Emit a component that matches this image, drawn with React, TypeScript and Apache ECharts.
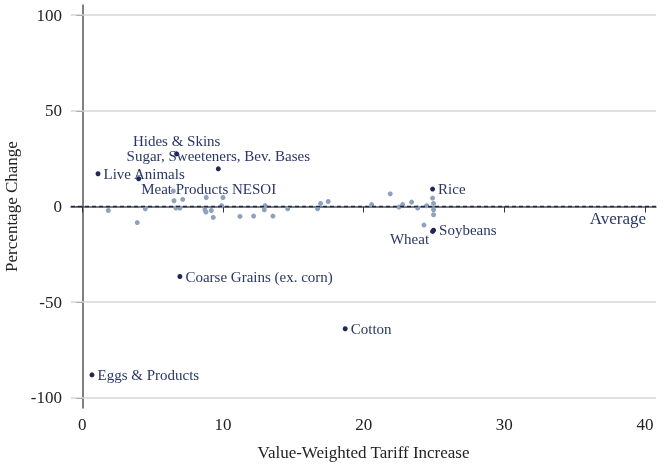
import * as echarts from "echarts";
import { useEffect, useRef } from "react";

// labelled commodities
const labelNames = [
  "Live Animals",
  "Meat Products NESOI",
  "Hides & Skins",
  "Sugar, Sweeteners, Bev. Bases",
  "Coarse Grains (ex. corn)",
  "Cotton",
  "Eggs & Products",
  "Rice",
  "Soybeans",
  "Wheat",
];
const labelTariff = [1.12, 4.01, 6.71, 9.67, 6.94, 18.69, 0.69, 24.9, 24.97, 24.9];
const labelChange = [17.1, 14.5, 27.5, 19.7, -36.6, -63.9, -88.0, 9.1, -12.4, -13.0];

// unlabelled commodities
const otherTariff = [
  1.85, 3.91, 4.48, 6.47, 6.52, 6.66, 6.94, 7.14, 8.81, 8.72, 8.79, 9.17, 9.31,
  10.0, 9.91, 11.21, 12.18, 13.0, 12.94, 13.55, 14.6, 16.73, 16.94, 17.48,
  20.57, 21.89, 22.51, 22.77, 23.41, 23.84, 24.48, 24.29, 24.9, 24.97, 24.97,
  24.97,
];
const otherChange = [
  -2.1, -8.4, -1.2, 8.1, 3.0, -0.8, -0.8, 3.7, 4.7, -1.7, -2.9, -2.1, -5.7,
  4.7, 0.4, -5.2, -5.0, 0.5, -1.7, -5.0, -1.2, -1.2, 1.6, 2.6, 1.0, 6.6, -0.3,
  1.0, 2.3, -0.8, 0.4, -9.7, 4.4, 1.6, -1.7, -4.3,
];

const xTicks = [0, 10, 20, 30, 40];
const yTicks = [-100, -50, 0, 50, 100];
const gridValues = [-100, -50, 50, 100];
const averageValue = 0;

const NAVY = "#1c2856";
const LIGHT = "#8ea2bb";
const FONT = "Liberation Serif";

// where each label sits relative to its dot
const labelPlacement: Record<string, any> = {
  "Hides & Skins": { position: "top", distance: 3 },
  "Sugar, Sweeteners, Bev. Bases": { position: "top", distance: 3 },
  "Meat Products NESOI": { position: "right", distance: 3, offset: [-3, 10] },
  Wheat: { position: "left", distance: 1, offset: [0, 8] },
};

const App = () => {
  const chartRef = useRef<HTMLDivElement>(null);

  useEffect(() => {
    const chart = echarts.init(chartRef.current as HTMLDivElement, null, {
      renderer: "svg",
    });

    const labelled = labelNames.map((name, i) => {
      const p = labelPlacement[name] || { position: "right", distance: 3 };
      return {
        name,
        value: [labelTariff[i], labelChange[i]],
        label: { show: true, formatter: "{b}", ...p },
      };
    });

    const others = otherTariff.map((x, i) => [x, otherChange[i]]);

    const option = {
      animation: false,
      textStyle: { fontFamily: FONT },
      grid: {
        left: 71,
        right: 11,
        top: 5,
        bottom: 58,
        containLabel: false,
        outerBoundsMode: "none",
      },
      xAxis: {
        type: "value",
        min: -0.8,
        max: 40.78,
        name: "Value-Weighted Tariff Increase",
        nameLocation: "middle",
        nameGap: 36,
        nameTextStyle: { fontFamily: FONT, fontSize: 17, color: "#222" },
        axisLine: { show: true, lineStyle: { color: "#555", width: 1.5 } },
        axisTick: {
          show: true,
          length: 6,
          customValues: xTicks,
          lineStyle: { color: "#333" },
        },
        axisLabel: {
          customValues: xTicks,
          fontFamily: FONT,
          fontSize: 17,
          color: "#222",
          margin: 8,
        },
        splitLine: { show: false },
      },
      yAxis: {
        type: "value",
        min: -105.3,
        max: 105.3,
        name: "Percentage Change",
        nameLocation: "middle",
        nameGap: 44,
        nameTextStyle: { fontFamily: FONT, fontSize: 17, color: "#222" },
        axisLine: { show: true, lineStyle: { color: "#555", width: 1.5 } },
        axisTick: {
          show: true,
          length: 6,
          customValues: yTicks,
          lineStyle: { color: "#333" },
        },
        axisLabel: {
          customValues: yTicks,
          fontFamily: FONT,
          fontSize: 17,
          color: "#222",
          margin: 9,
        },
        splitLine: { show: false },
      },
      series: [
        {
          type: "scatter",
          symbolSize: 5,
          itemStyle: { color: LIGHT, opacity: 1 },
          data: others,
          z: 3,
          markLine: {
            silent: true,
            symbol: "none",
            label: { show: false },
            lineStyle: { color: "#d6d6d6", width: 1.5, type: "solid" },
            data: gridValues.map((v) => ({ yAxis: v })),
          },
        },
        {
          type: "scatter",
          symbolSize: 5,
          itemStyle: { color: NAVY, opacity: 1 },
          label: {
            fontFamily: FONT,
            fontSize: 15,
            color: "#2a3766",
          },
          data: labelled,
          z: 4,
          markLine: {
            silent: true,
            symbol: "none",
            lineStyle: { color: NAVY, width: 1.3, type: [4, 3] },
            label: {
              show: true,
              position: "insideEndBottom",
              formatter: "Average",
              fontFamily: FONT,
              fontSize: 17,
              color: "#2a3766",
              distance: [10, 3],
            },
            data: [{ yAxis: averageValue }],
          },
        },
      ],
    };

    chart.setOption(option);
    return () => {
      chart.dispose();
    };
  }, []);

  return (
    <div
      ref={chartRef}
      style={{ position: "fixed", left: 0, top: 0, width: "667px", height: "466px" }}
    />
  );
};

export default App;
